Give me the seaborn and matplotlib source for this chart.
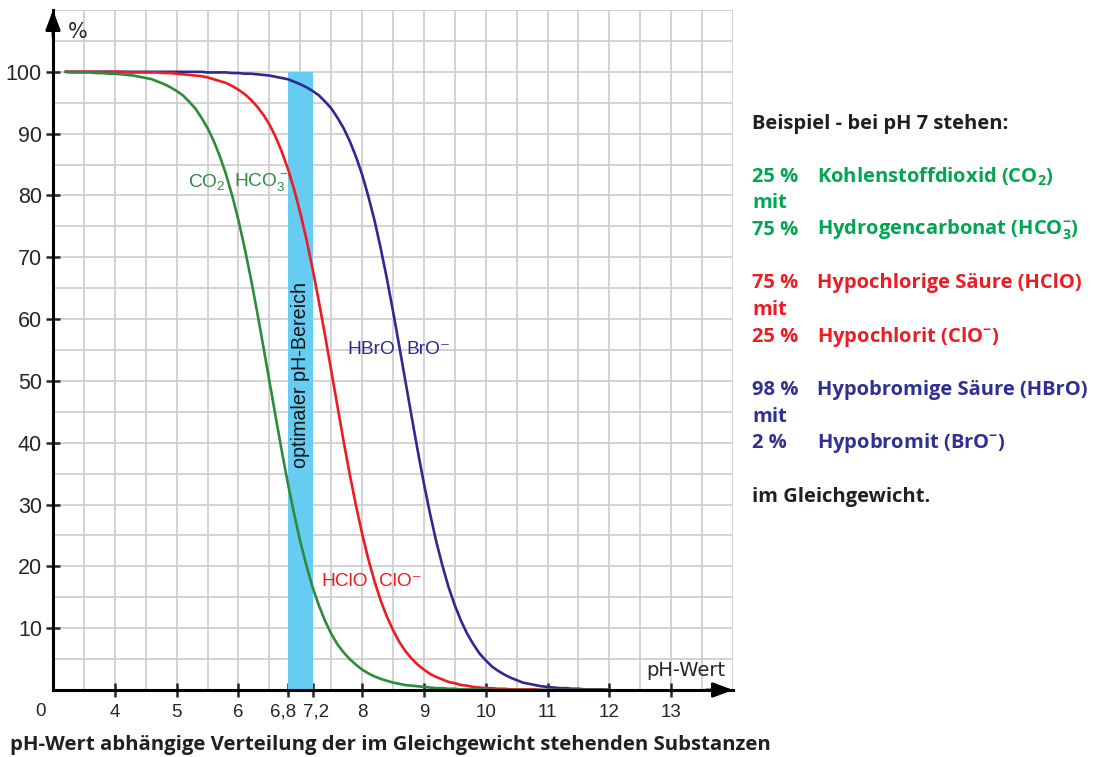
import matplotlib
matplotlib.use("Agg")
import matplotlib.pyplot as plt
from matplotlib.transforms import ScaledTranslation
import seaborn as sns
import pandas as pd
import numpy as np

W, H = 1099, 757

# pH-Werte und Anteil der Säureform in %
ph = [3.2, 3.3, 3.4, 3.5, 3.6, 3.7, 3.8, 3.9, 4.0, 4.1,
      4.2, 4.3, 4.4, 4.5, 4.6, 4.7, 4.8, 4.9, 5.0, 5.1,
      5.2, 5.3, 5.4, 5.5, 5.6, 5.7, 5.8, 5.9, 6.0, 6.1,
      6.2, 6.3, 6.4, 6.5, 6.6, 6.7, 6.8, 6.9, 7.0, 7.1,
      7.2, 7.3, 7.4, 7.5, 7.6, 7.7, 7.8, 7.9, 8.0, 8.1,
      8.2, 8.3, 8.4, 8.5, 8.6, 8.7, 8.8, 8.9, 9.0, 9.1,
      9.2, 9.3, 9.4, 9.5, 9.6, 9.7, 9.8, 9.9, 10.0, 10.1,
      10.2, 10.3, 10.4, 10.5, 10.6, 10.7, 10.8, 10.9, 11.0, 11.1,
      11.2, 11.3, 11.4, 11.5, 11.6, 11.7, 11.8, 11.9, 12.0]

co2 = [100.0, 99.9, 99.9, 99.9, 99.9, 99.8, 99.8, 99.7, 99.7, 99.6,
       99.5, 99.4, 99.2, 99.0, 98.8, 98.4, 98.0, 97.5, 96.9, 96.2,
       95.2, 94.1, 92.6, 90.9, 88.8, 86.3, 83.4, 79.9, 76.0, 71.5,
       66.6, 61.3, 55.7, 50.0, 44.3, 38.7, 33.4, 28.5, 24.0, 20.1,
       16.6, 13.7, 11.2, 9.1, 7.4, 6.1, 5.0, 4.1, 3.3, 2.7,
       2.2, 1.8, 1.5, 1.2, 1.0, 0.8, 0.7, 0.6, 0.5, 0.4,
       0.3, 0.3, 0.2, 0.2, 0.1, 0.1, 0.1, 0.1, 0.1, 0.0,
       0.0, 0.0, 0.0, 0.0, 0.0, 0.0, 0.0, 0.0, 0.0, 0.0,
       0.0, 0.0, 0.0, 0.0, 0.0, 0.0, 0.0, 0.0, 0.0]

hclo = [100.0, 100.0, 100.0, 100.0, 100.0, 100.0, 100.0, 100.0, 100.0, 100.0,
        99.9, 99.9, 99.9, 99.9, 99.9, 99.9, 99.8, 99.8, 99.7, 99.6,
        99.5, 99.4, 99.3, 99.1, 98.8, 98.5, 98.2, 97.7, 97.1, 96.4,
        95.5, 94.4, 93.1, 91.5, 89.5, 87.1, 84.3, 81.0, 77.2, 72.9,
        68.1, 62.9, 57.4, 51.7, 46.0, 40.3, 34.9, 29.9, 25.3, 21.2,
        17.6, 14.5, 11.9, 9.7, 7.8, 6.3, 5.1, 4.1, 3.3, 2.6,
        2.1, 1.7, 1.3, 1.1, 0.8, 0.7, 0.5, 0.4, 0.3, 0.3,
        0.2, 0.2, 0.1, 0.1, 0.1, 0.1, 0.1, 0.0, 0.0, 0.0,
        0.0, 0.0, 0.0, 0.0, 0.0, 0.0, 0.0, 0.0, 0.0]

hbro = [100.0, 100.0, 100.0, 100.0, 100.0, 100.0, 100.0, 100.0, 100.0, 100.0,
        100.0, 100.0, 100.0, 100.0, 100.0, 100.0, 100.0, 100.0, 100.0, 100.0,
        100.0, 100.0, 100.0, 99.9, 99.9, 99.9, 99.9, 99.8, 99.8, 99.7,
        99.7, 99.6, 99.5, 99.4, 99.2, 99.0, 98.8, 98.4, 98.0, 97.5,
        96.9, 96.2, 95.2, 94.1, 92.6, 90.9, 88.8, 86.3, 83.4, 79.9,
        76.0, 71.5, 66.6, 61.3, 55.7, 50.0, 44.3, 38.7, 33.4, 28.5,
        24.0, 20.1, 16.6, 13.7, 11.2, 9.1, 7.4, 5.9, 4.8, 3.8,
        3.1, 2.5, 2.0, 1.6, 1.2, 1.0, 0.8, 0.6, 0.5, 0.4,
        0.3, 0.3, 0.2, 0.2, 0.1, 0.1, 0.1, 0.1, 0.0]

assert len(ph) == len(co2) == len(hclo) == len(hbro)

x_ticks = [4, 5, 6, 6.8, 7.2, 8, 9, 10, 11, 12, 13]
x_labels = ["4", "5", "6", "6,8", "7,2", "8", "9", "10", "11", "12", "13"]
y_ticks = [10, 20, 30, 40, 50, 60, 70, 80, 90, 100]
band = [6.8, 7.2]

GREEN = "#2e8b3e"
RED = "#ed1c24"
BLUE = "#2e2a8f"
BAND = "#66ccf2"

df = pd.DataFrame({
    "pH": ph * 3,
    "Anteil": hbro + hclo + co2,
    "Paar": ["HBrO"] * len(ph) + ["HClO"] * len(ph) + ["CO2"] * len(ph),
})

sns.set_style("white")
plt.rcParams["font.family"] = ["Liberation Sans", "DejaVu Sans"]
plt.rcParams["mathtext.fontset"] = "custom"
plt.rcParams["mathtext.rm"] = "Liberation Sans"
plt.rcParams["mathtext.bf"] = "Open Sans:bold"

fig = plt.figure(figsize=(W / 100, H / 100), dpi=100)
ax = fig.add_axes([53 / W, 67 / H, 680 / W, 680 / H])
ax.set_xlim(3, 14)
ax.set_ylim(0, 110)

# Raster
ax.vlines(np.arange(3.5, 14.01, 0.5), 0, 110, color="#cccccc", lw=1.2, zorder=0)
ax.hlines(np.arange(5, 110.01, 5), 3, 14, color="#cccccc", lw=1.2, zorder=0)

# optimaler pH-Bereich
ax.fill_between(band, 0, 100, color=BAND, lw=0, zorder=1)
ax.text(sum(band) / 2, 51, "optimaler pH-Bereich", rotation=90, ha="center", va="center",
        fontsize=14.2, color="#111111", zorder=2)

sns.lineplot(data=df, x="pH", y="Anteil", hue="Paar", hue_order=["HBrO", "HClO", "CO2"],
             palette=[BLUE, RED, GREEN], linewidth=1.9, legend=False, ax=ax, zorder=3)

# Beschriftung an den Kurven
lab = dict(fontsize=13.8, va="center")
ax.text(5.19, 82, "CO$_2$", color=GREEN, **lab)
ax.text(5.93, 82, "HCO$_3^-$", color=GREEN, **lab)
ax.text(7.76, 55, "HBrO", color=BLUE, **lab)
ax.text(8.71, 55, "BrO⁻", color=BLUE, **lab)
ax.text(7.34, 17.5, "HClO", color=RED, **lab)
ax.text(8.28, 17.5, "ClO⁻", color=RED, **lab)

# Achsen
for s in ["top", "right"]:
    ax.spines[s].set_visible(False)
for s in ["left", "bottom"]:
    ax.spines[s].set_linewidth(2.2)
    ax.spines[s].set_color("black")
    ax.spines[s].set_zorder(4)

ax.set_xticks(x_ticks)
ax.set_xticklabels(x_labels, fontsize=13.5)
ax.set_yticks(y_ticks)
ax.set_yticklabels([str(v) for v in y_ticks], fontsize=15.5)
ax.tick_params(axis="x", direction="inout", length=10, width=1.8, pad=5, bottom=True)
ax.tick_params(axis="y", direction="inout", length=10, width=1.8, pad=3, left=True)
ax.set_xlabel("")
ax.set_ylabel("")

for lbl in ax.get_xticklabels():
    if lbl.get_text() == "6,8":
        lbl.set_transform(lbl.get_transform() + ScaledTranslation(-0.045, 0, fig.dpi_scale_trans))
    if lbl.get_text() == "7,2":
        lbl.set_transform(lbl.get_transform() + ScaledTranslation(0.035, 0, fig.dpi_scale_trans))

arrow = dict(arrowstyle="-|>,head_length=0.8,head_width=0.3", color="black", lw=2,
             shrinkA=0, shrinkB=0, mutation_scale=15)
ax.annotate("", xy=(1, 0), xytext=(0.96, 0), xycoords="axes fraction",
            arrowprops=arrow, annotation_clip=False, zorder=5)
ax.annotate("", xy=(0, 1), xytext=(0, 0.96), xycoords="axes fraction",
            arrowprops=arrow, annotation_clip=False, zorder=5)

fig.text(40 / W, 1 - 711 / H, "0", ha="center", va="center", fontsize=13.5)
fig.text(78 / W, 1 - 32 / H, "%", ha="center", va="center", fontsize=15,
         fontfamily=["DejaVu Sans"])
fig.text(725 / W, 1 - 670 / H, "pH-Wert", ha="right", va="center", fontsize=14,
         fontfamily=["DejaVu Sans"])

# Textblock rechts
TXT = "#231f20"
TG = "#00a651"
TB = "#2e3192"
bold = dict(fontfamily=["Open Sans", "DejaVu Sans"], fontweight="bold", fontsize=14.5, va="center")


def put(x, y, s, c, size=14.5):
    fig.text(x / W, 1 - y / H, s, color=c, **{**bold, "fontsize": size})


put(752, 124, "Beispiel - bei pH 7 stehen:", TXT)
put(752, 177, "25 %", TG)
put(817, 177, r"Kohlenstoffdioxid (CO$_\mathbf{2}$)", TG)
put(752, 203, "mit", TG)
put(752, 230, "75 %", TG)
put(817, 230, r"Hydrogencarbonat (HCO$_\mathbf{3}^\mathbf{-}$)", TG)
put(752, 283, "75 %", RED)
put(817, 283, "Hypochlorige Säure (HClO)", RED)
put(752, 310, "mit", RED)
put(752, 337, "25 %", RED)
put(817, 337, r"Hypochlorit (ClO$^\mathbf{-}$)", RED)
put(752, 390, "98 %", TB)
put(817, 390, "Hypobromige Säure (HBrO)", TB)
put(752, 417, "mit", TB)
put(752, 443, "2 %", TB)
put(817, 443, r"Hypobromit (BrO$^\mathbf{-}$)", TB)
put(752, 497, "im Gleichgewicht.", TXT)

put(10, 745, "pH-Wert abhängige Verteilung der im Gleichgewicht stehenden Substanzen", TXT, 14.7)

fig.savefig("out.png", dpi=100)
